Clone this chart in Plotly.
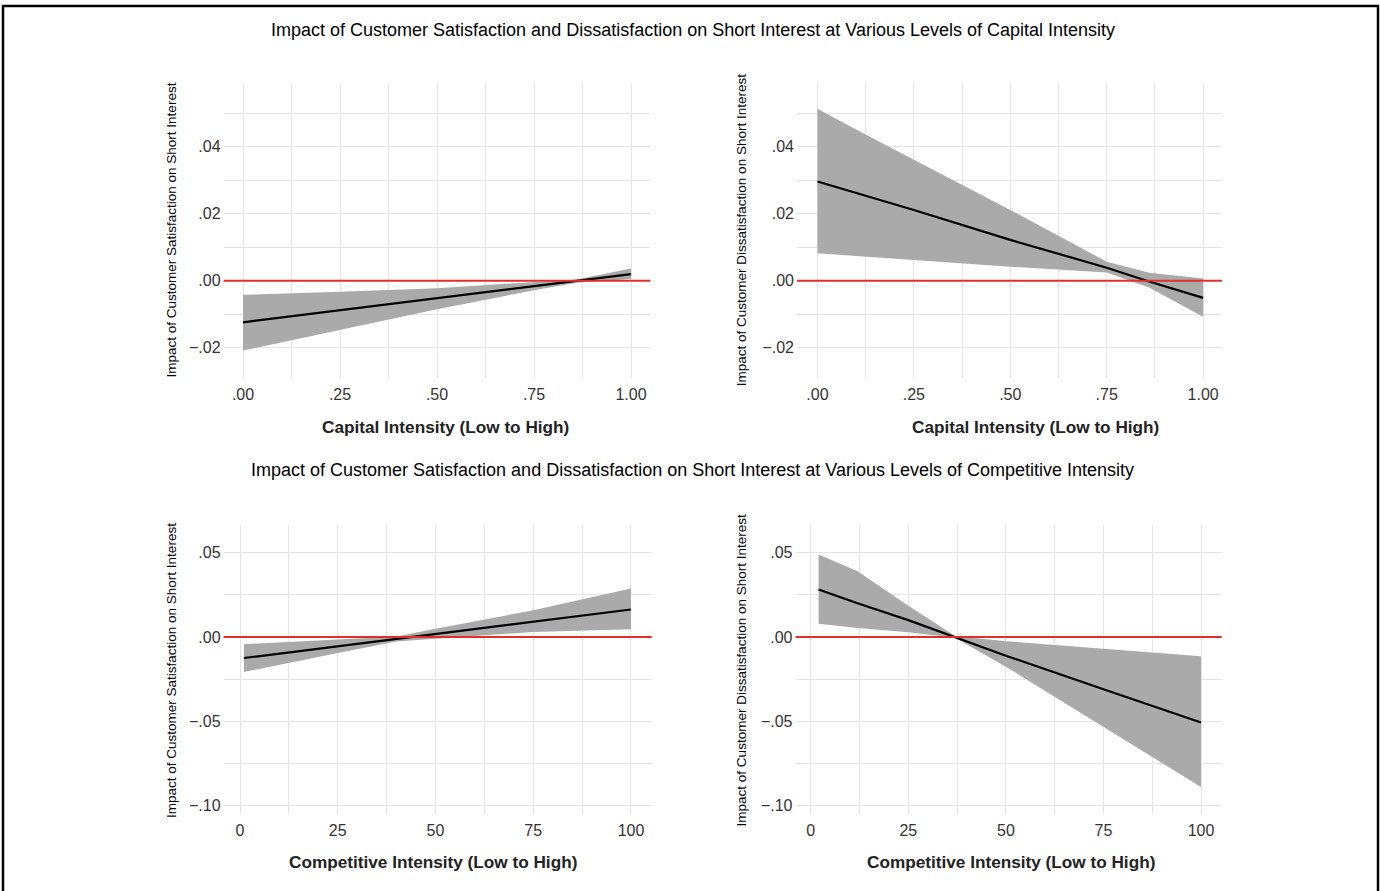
import plotly.graph_objects as go

W, H = 1380, 891

# ---------------- DATA ----------------
# Capital intensity panels (top)
cap_x = [0.0, 0.11, 0.25, 0.50, 0.75, 0.86, 1.00]
sat_cap_est = [-0.0124, -0.0108, -0.0088, -0.0052, -0.0016, 0.0000, 0.0020]
sat_cap_upper = [-0.0042, -0.0039, -0.0033, -0.0022, -0.0005, 0.0004, 0.0037]
sat_cap_lower = [-0.0208, -0.0180, -0.0146, -0.0085, -0.0028, -0.0006, 0.0005]

dis_cap_est = [0.0296, 0.0259, 0.0211, 0.0122, 0.0039, -0.0002, -0.0051]
dis_cap_upper = [0.0513, 0.0445, 0.0361, 0.0211, 0.0057, 0.0024, 0.0007]
dis_cap_lower = [0.0082, 0.0072, 0.0061, 0.0042, 0.0025, -0.0020, -0.0107]

# Competitive intensity panels (bottom)
comp_sat_x = [1, 25, 40, 50, 75, 100]
sat_comp_est = [-0.0125, -0.0055, -0.0012, 0.0018, 0.0090, 0.0163]
sat_comp_upper = [-0.0043, -0.0012, 0.0003, 0.0048, 0.0158, 0.0287]
sat_comp_lower = [-0.0208, -0.0095, -0.0027, -0.0010, 0.0030, 0.0046]

comp_dis_x = [2, 12, 25, 37, 50, 75, 100]
dis_comp_est = [0.0281, 0.0200, 0.0100, 0.0000, -0.0111, -0.0310, -0.0507]
dis_comp_upper = [0.0489, 0.0390, 0.0185, 0.0005, -0.0025, -0.0070, -0.0115]
dis_comp_lower = [0.0079, 0.0053, 0.0028, -0.0005, -0.0176, -0.0531, -0.0890]

cap_ticks = [0, 0.25, 0.5, 0.75, 1.0]
cap_ticktext = [".00", ".25", ".50", ".75", "1.00"]
cap_minor = [0.125, 0.375, 0.625, 0.875]
comp_ticks = [0, 25, 50, 75, 100]
comp_ticktext = ["0", "25", "50", "75", "100"]
comp_minor = [12.5, 37.5, 62.5, 87.5]

ytop_ticks = [-0.02, 0.0, 0.02, 0.04]
ytop_ticktext = ["\u2212.02", ".00", ".02", ".04"]
ytop_minor = [-0.03, -0.01, 0.01, 0.03, 0.05]
ybot_ticks = [-0.10, -0.05, 0.0, 0.05]
ybot_ticktext = ["\u2212.10", "\u2212.05", ".00", ".05"]
ybot_minor = [-0.075, -0.025, 0.025]

title_top = "Impact of Customer Satisfaction and Dissatisfaction on Short Interest at Various Levels of Capital Intensity"
title_bot = "Impact of Customer Satisfaction and Dissatisfaction on Short Interest at Various Levels of Competitive Intensity"
ytitle_sat = "Impact of Customer Satisfaction on Short Interest"
ytitle_dis = "Impact of Customer Dissatisfaction on Short Interest"
xtitle_cap = "Capital Intensity (Low to High)"
xtitle_comp = "Competitive Intensity (Low to High)"

# ---------------- STYLE ----------------
FONT = "Liberation Sans, Arial, Helvetica, sans-serif"
GRID = "#e4e4e4"
BAND = "#aaaaaa"
RED = "#e0302a"


def px_x(p):
    return p / W


def px_y(p):
    return 1 - p / H


fig = go.Figure()

panels = [
    ("", cap_x, sat_cap_est, sat_cap_upper, sat_cap_lower, [-0.05, 1.05], [-0.029, 0.059], 223.6, 650.4, 83, 378),
    ("2", cap_x, dis_cap_est, dis_cap_upper, dis_cap_lower, [-0.053, 1.049], [-0.029, 0.059], 797, 1222, 83, 378),
    ("3", comp_sat_x, sat_comp_est, sat_comp_upper, sat_comp_lower, [-4.2, 105.3], [-0.105, 0.0664], 223.6, 651.7, 525, 814),
    ("4", comp_dis_x, dis_comp_est, dis_comp_upper, dis_comp_lower, [-3.9, 105.3], [-0.105, 0.0664], 795.5, 1221.7, 525, 814),
]

layout_axes = {}
for i, (k, xs, est, up, lo, xr, yr, l, r, t, b) in enumerate(panels):
    xa = "x" + k
    ya = "y" + k
    fig.add_trace(go.Scatter(
        x=list(xs) + list(xs)[::-1], y=list(up) + list(lo)[::-1],
        fill="toself", fillcolor=BAND, line=dict(width=0, color=BAND),
        mode="lines", xaxis=xa, yaxis=ya, showlegend=False, hoverinfo="skip"))
    fig.add_trace(go.Scatter(
        x=xs, y=est, mode="lines", line=dict(color="black", width=2.2),
        xaxis=xa, yaxis=ya, showlegend=False))
    fig.add_shape(type="line", xref=xa + " domain", yref=ya, x0=0, x1=1, y0=0, y1=0,
                  line=dict(color=RED, width=2), layer="above")

    top = i < 2
    xaxis = dict(
        domain=[px_x(l), px_x(r)], range=xr, anchor=ya,
        tickmode="array",
        tickvals=cap_ticks if top else comp_ticks,
        ticktext=cap_ticktext if top else comp_ticktext,
        showgrid=True, gridcolor=GRID, gridwidth=1, zeroline=False, showline=False,
        ticks="", tickfont=dict(family=FONT, size=16, color="#333333"),
        ticklabelstandoff=5,
        minor=dict(tickmode="array", tickvals=cap_minor if top else comp_minor,
                   showgrid=True, gridcolor=GRID, gridwidth=1, ticks=""),
        fixedrange=True,
    )
    yaxis = dict(
        domain=[px_y(b), px_y(t)], range=yr, anchor=xa,
        tickmode="array",
        tickvals=ytop_ticks if top else ybot_ticks,
        ticktext=ytop_ticktext if top else ybot_ticktext,
        showgrid=True, gridcolor=GRID, gridwidth=1, zeroline=False, showline=False,
        ticks="", tickfont=dict(family=FONT, size=16, color="#333333"),
        ticklabelstandoff=2,
        minor=dict(tickmode="array", tickvals=ytop_minor if top else ybot_minor,
                   showgrid=True, gridcolor=GRID, gridwidth=1, ticks=""),
        fixedrange=True,
    )
    layout_axes["xaxis" + k] = xaxis
    layout_axes["yaxis" + k] = yaxis

fig.update_layout(**layout_axes)

annotations = [
    dict(text=title_top, x=px_x(692.5), y=px_y(30), font=dict(size=18)),
    dict(text=title_bot, x=px_x(692.5), y=px_y(470), font=dict(size=18)),
    dict(text=ytitle_sat, x=px_x(171), y=px_y(230.5), textangle=-90, font=dict(size=13.5)),
    dict(text=ytitle_dis, x=px_x(741.7), y=px_y(230.5), textangle=-90, font=dict(size=13.5)),
    dict(text=ytitle_sat, x=px_x(171), y=px_y(671), textangle=-90, font=dict(size=13.5)),
    dict(text=ytitle_dis, x=px_x(741.7), y=px_y(670.7), textangle=-90, font=dict(size=13.5)),
    dict(text="<b>" + xtitle_cap + "</b>", x=px_x(445.5), y=px_y(427), font=dict(size=17.2, color="#222222")),
    dict(text="<b>" + xtitle_cap + "</b>", x=px_x(1035), y=px_y(427), font=dict(size=17.2, color="#222222")),
    dict(text="<b>" + xtitle_comp + "</b>", x=px_x(432.5), y=px_y(862), font=dict(size=17.2, color="#222222")),
    dict(text="<b>" + xtitle_comp + "</b>", x=px_x(1010.5), y=px_y(862), font=dict(size=17.2, color="#222222")),
]
for a in annotations:
    a.update(xref="paper", yref="paper", showarrow=False, xanchor="center", yanchor="middle")
    a["font"].setdefault("color", "black")
    a["font"]["family"] = FONT

# Outer frame (open at the bottom)
fig.add_shape(type="path", xref="paper", yref="paper",
              path=f"M {px_x(3)},{px_y(891)} L {px_x(3)},{px_y(6)} L {px_x(1378)},{px_y(6)} L {px_x(1378)},{px_y(891)}",
              line=dict(color="black", width=2.5))

fig.update_layout(
    width=W, height=H, autosize=False,
    margin=dict(l=0, r=0, t=0, b=0),
    paper_bgcolor="white", plot_bgcolor="white",
    annotations=annotations,
    font=dict(family=FONT),
    showlegend=False,
)

fig.write_html(
    "out.html",
    config={"displayModeBar": False},
    post_script="document.body.style.margin='0';document.body.style.overflow='hidden';",
)
